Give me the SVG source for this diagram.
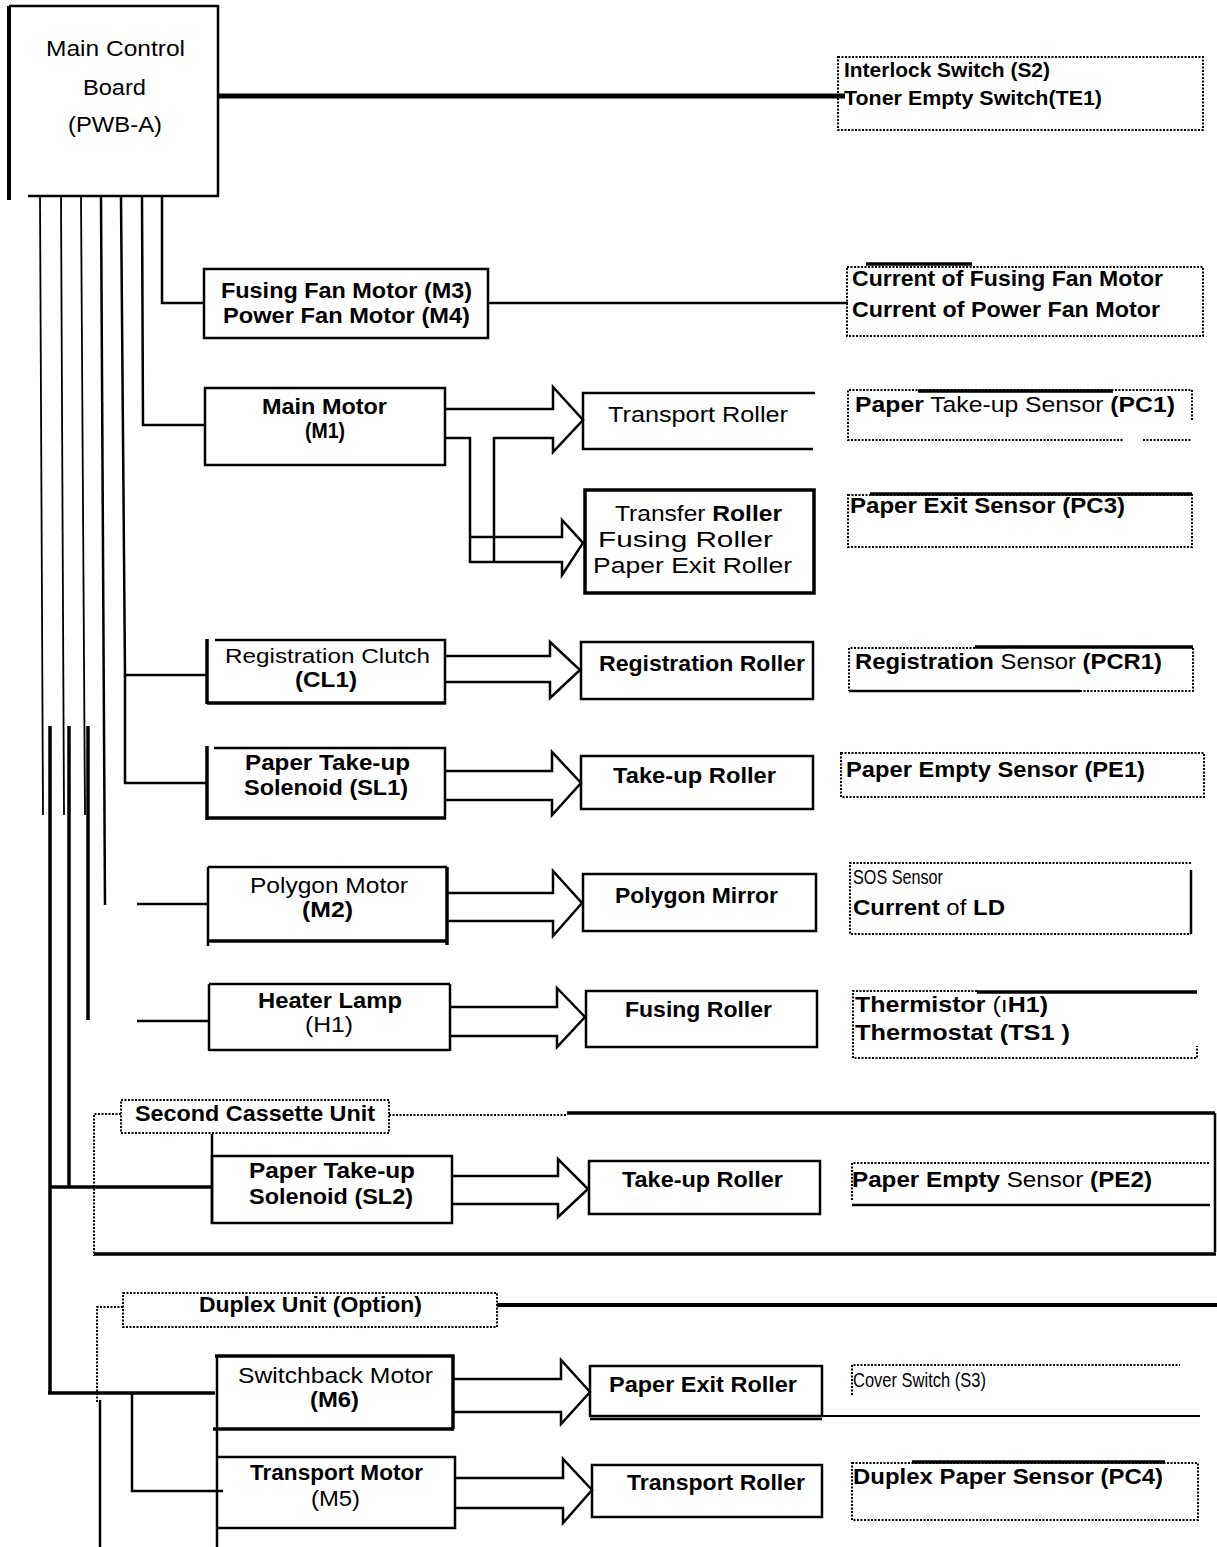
<svg xmlns="http://www.w3.org/2000/svg" width="1217" height="1547" viewBox="0 0 1217 1547">
<style>
.bx{fill:none;stroke:#000;stroke-width:2.5}
.tk{fill:none;stroke:#000;stroke-width:3.5}
.dt{fill:none;stroke:#000;stroke-width:2;stroke-dasharray:2 1.5}
.ln{fill:none;stroke:#000;stroke-width:2.5}
.th{fill:none;stroke:#000;stroke-width:1.8}
.ar{fill:none;stroke:#000;stroke-width:2.5;stroke-linejoin:miter}
text{font-family:"Liberation Sans",Arial,Helvetica,sans-serif;font-size:22px;fill:#000}
.b{font-weight:bold}
.s{font-size:21px}
</style>
<rect width="1217" height="1547" fill="#fff"/>

<g id="connectors">
  <line class="tk" x1="219" y1="96" x2="845" y2="96" style="stroke-width:5"/>
  <line class="th" x1="40" y1="197" x2="43" y2="815"/>
  <line class="tk" x1="50" y1="726" x2="50" y2="1394"/>
  <line class="th" x1="61" y1="197" x2="64" y2="815"/>
  <line class="tk" x1="69" y1="726" x2="69" y2="1187"/>
  <line class="th" x1="81" y1="197" x2="85" y2="815"/>
  <line class="tk" x1="88" y1="726" x2="88" y2="1020"/>
  <line class="ln" x1="101" y1="197" x2="105" y2="905"/>
  <polyline class="ln" points="121,197 125,675 207,675"/>
  <polyline class="ln" points="125,675 125,783 207,783"/>
  <polyline class="ln" points="142,197 143,425 205,425"/>
  <polyline class="ln" points="162,197 162,303 205,303"/>
  <line class="ln" x1="137" y1="904" x2="208" y2="904"/>
  <line class="ln" x1="137" y1="1021" x2="209" y2="1021"/>
  <line class="tk" x1="50" y1="1187" x2="212" y2="1187"/>
  <line class="tk" x1="48" y1="1393" x2="215" y2="1393"/>
  <polyline class="ln" points="132,1393 132,1491 223,1491"/>
  <line class="ln" x1="488" y1="303" x2="848" y2="303"/>
  <polyline class="ar" points="445,409 553,409 553,387 583,420 553,452 553,438 494,438 494,562"/>
  <polyline class="ar" points="445,438 470,438 470,562 562,562 562,575 583,543 562,520 562,537 470,537"/>
  <polyline class="ar" points="445,656 550,656 550,642 580,670 550,698 550,682 445,682"/>
  <polyline class="ar" points="445,771 552,771 552,752 581,783 552,815 552,800 445,800"/>
  <polyline class="ar" points="447,893 553,893 553,871 582,903 553,936 553,921 447,921"/>
  <polyline class="ar" points="450,1007 557,1007 557,988 585,1017 557,1047 557,1036 450,1036"/>
  <polyline class="ar" points="452,1176 558,1176 558,1159 588,1189 558,1217 558,1204 452,1204"/>
  <polyline class="ar" points="453,1379 561,1379 561,1360 590,1392 561,1424 561,1412 453,1412"/>
  <polyline class="ar" points="455,1478 563,1478 563,1459 592,1490 563,1523 563,1508 455,1508"/>
</g>

<g id="main-board">
  <line class="tk" x1="9" y1="6" x2="9" y2="200" style="stroke-width:4"/>
  <polyline class="bx" points="9,6 218,6 218,196 28,196"/>
  <text x="46" y="56" textLength="139" lengthAdjust="spacingAndGlyphs">Main  Control</text>
  <text x="83" y="95" textLength="63" lengthAdjust="spacingAndGlyphs">Board</text>
  <text x="68" y="132" textLength="94" lengthAdjust="spacingAndGlyphs">(PWB-A)</text>
</g>

<g id="interlock">
  <rect class="dt" x="838" y="57" width="365" height="73"/>
  <text class="b" x="844" y="77" textLength="206" lengthAdjust="spacingAndGlyphs" style="font-size:21px">Interlock Switch (S2)</text>
  <text class="b" x="844" y="105" textLength="258" lengthAdjust="spacingAndGlyphs" style="font-size:21px">Toner Empty Switch(TE1)</text>
</g>

<g id="fan-motors">
  <rect class="bx" x="204" y="269" width="284" height="69"/>
  <text class="b" x="221" y="298" textLength="251" lengthAdjust="spacingAndGlyphs">Fusing Fan Motor (M3)</text>
  <text class="b" x="223" y="323" textLength="247" lengthAdjust="spacingAndGlyphs">Power Fan Motor (M4)</text>
</g>

<g id="fan-current">
  <rect class="dt" x="847" y="267" width="356" height="69"/>
  <line class="tk" x1="866" y1="264" x2="972" y2="264"/>
  <text class="b" x="852" y="286" textLength="311" lengthAdjust="spacingAndGlyphs">Current of Fusing Fan Motor</text>
  <text class="b" x="852" y="317" textLength="308" lengthAdjust="spacingAndGlyphs">Current of Power Fan Motor</text>
</g>

<g id="main-motor">
  <rect class="bx" x="205" y="388" width="240" height="77"/>
  <text class="b" x="262" y="414" textLength="125" lengthAdjust="spacingAndGlyphs">Main Motor</text>
  <text class="b" x="305" y="438" textLength="40" lengthAdjust="spacingAndGlyphs">(M1)</text>
</g>

<g id="transport-roller">
  <polyline class="bx" points="815,393 583,393 583,449 813,449"/>
  <text x="608" y="422" textLength="180" lengthAdjust="spacingAndGlyphs">Transport  Roller</text>
</g>

<g id="pc1">
  <polyline class="dt" points="1192,420 1192,390 848,390 848,440 1123,440"/>
  <line class="dt" x1="1143" y1="440" x2="1192" y2="440"/>
  <line class="tk" x1="918" y1="391" x2="1113" y2="391"/>
  <text x="855" y="412" textLength="320" lengthAdjust="spacingAndGlyphs"><tspan class="b">Paper</tspan> Take-up Sensor <tspan class="b">(PC1)</tspan></text>
</g>

<g id="transfer-roller">
  <rect class="tk" x="585" y="490" width="229" height="103"/>
  <text x="615" y="521" textLength="167" lengthAdjust="spacingAndGlyphs">Transfer <tspan class="b">Roller</tspan></text>
  <text x="598" y="547" textLength="175" lengthAdjust="spacingAndGlyphs">Fusing  Roller</text>
  <text x="593" y="573" textLength="199" lengthAdjust="spacingAndGlyphs">Paper Exit Roller</text>
</g>

<g id="pc3">
  <rect class="dt" x="848" y="495" width="344" height="52"/>
  <line class="tk" x1="870" y1="494" x2="1192" y2="494"/>
  <text class="b" x="850" y="513" textLength="275" lengthAdjust="spacingAndGlyphs">Paper Exit Sensor (PC3)</text>
</g>

<g id="reg-clutch">
  <line class="tk" x1="207" y1="639" x2="207" y2="704"/>
  <polyline class="bx" points="215,640 445,640 445,704"/>
  <line class="tk" x1="207" y1="703" x2="446" y2="703"/>
  <text x="225" y="663" textLength="205" lengthAdjust="spacingAndGlyphs" style="font-size:20px">Registration   Clutch</text>
  <text class="b" x="295" y="687" textLength="62" lengthAdjust="spacingAndGlyphs">(CL1)</text>
</g>

<g id="reg-roller">
  <rect class="bx" x="581" y="642" width="232" height="57"/>
  <text class="b" x="599" y="671" textLength="206" lengthAdjust="spacingAndGlyphs">Registration Roller</text>
</g>

<g id="pcr1">
  <polyline class="dt" points="975,648 849,648 849,691"/>
  <polyline class="dt" points="1080,691 1193,691 1193,648"/>
  <line class="tk" x1="975" y1="647" x2="1193" y2="647"/>
  <line class="ln" x1="849" y1="691" x2="1080" y2="691"/>
  <text x="855" y="669" textLength="307" lengthAdjust="spacingAndGlyphs"><tspan class="b">Registration</tspan> Sensor <tspan class="b">(PCR1)</tspan></text>
</g>

<g id="sl1">
  <line class="tk" x1="207" y1="746" x2="207" y2="820"/>
  <polyline class="bx" points="214,748 445,748 445,819"/>
  <line class="tk" x1="207" y1="818" x2="446" y2="818"/>
  <text class="b" x="245" y="770" textLength="165" lengthAdjust="spacingAndGlyphs">Paper Take-up</text>
  <text class="b" x="244" y="795" textLength="164" lengthAdjust="spacingAndGlyphs">Solenoid (SL1)</text>
</g>

<g id="takeup-roller">
  <rect class="bx" x="581" y="756" width="232" height="53"/>
  <text class="b" x="613" y="783" textLength="163" lengthAdjust="spacingAndGlyphs">Take-up Roller</text>
</g>

<g id="pe1">
  <rect class="dt" x="841" y="753" width="363" height="44"/>
  <text class="b" x="846" y="777" textLength="299" lengthAdjust="spacingAndGlyphs">Paper Empty Sensor (PE1)</text>
</g>

<g id="polygon-motor">
  <line class="bx" x1="208" y1="867" x2="447" y2="867"/>
  <line class="bx" x1="208" y1="867" x2="208" y2="946"/>
  <line class="tk" x1="447" y1="867" x2="447" y2="945"/>
  <line class="tk" x1="208" y1="941" x2="448" y2="941"/>
  <text x="250" y="893" textLength="158" lengthAdjust="spacingAndGlyphs">Polygon Motor</text>
  <text class="b" x="302" y="917" textLength="51" lengthAdjust="spacingAndGlyphs">(M2)</text>
</g>

<g id="polygon-mirror">
  <rect class="bx" x="583" y="874" width="233" height="57"/>
  <text class="b" x="615" y="903" textLength="163" lengthAdjust="spacingAndGlyphs">Polygon Mirror</text>
</g>

<g id="sos">
  <polyline class="dt" points="1191,863 850,863 850,934 1191,934"/>
  <line class="ln" x1="1191" y1="870" x2="1191" y2="934"/>
  <text x="853" y="884" textLength="90" lengthAdjust="spacingAndGlyphs" class="s">SOS Sensor</text>
  <text x="853" y="915" textLength="152" lengthAdjust="spacingAndGlyphs"><tspan class="b">Current</tspan> of <tspan class="b">LD</tspan></text>
</g>

<g id="heater-lamp">
  <line class="bx" x1="209" y1="984" x2="209" y2="1051"/>
  <line class="bx" x1="209" y1="984" x2="450" y2="984"/>
  <line class="bx" x1="450" y1="984" x2="450" y2="1051"/>
  <line class="bx" x1="209" y1="1050" x2="450" y2="1050"/>
  <text class="b" x="258" y="1008" textLength="144" lengthAdjust="spacingAndGlyphs">Heater Lamp</text>
  <text x="305" y="1032" textLength="48" lengthAdjust="spacingAndGlyphs">(H1)</text>
</g>

<g id="fusing-roller">
  <rect class="bx" x="586" y="991" width="231" height="56"/>
  <text class="b" x="625" y="1017" textLength="147" lengthAdjust="spacingAndGlyphs">Fusing Roller</text>
</g>

<g id="thermistor">
  <polyline class="dt" points="977,991 853,991 853,1058 1197,1058 1197,1046"/>
  <line class="tk" x1="977" y1="992" x2="1197" y2="992"/>
  <text x="855" y="1012" textLength="193" lengthAdjust="spacingAndGlyphs"><tspan class="b">Thermistor</tspan> (ı<tspan class="b">H1)</tspan></text>
  <text class="b" x="855" y="1040" textLength="215" lengthAdjust="spacingAndGlyphs">Thermostat (TS1 )</text>
</g>

<g id="second-cassette">
  <polyline class="dt" points="121,1114 94,1114 94,1256"/>
  <line class="dt" x1="389" y1="1115" x2="567" y2="1115"/>
  <line class="tk" x1="567" y1="1113" x2="1215" y2="1113"/>
  <line class="ln" x1="1215" y1="1113" x2="1215" y2="1252"/>
  <line class="tk" x1="94" y1="1254" x2="1216" y2="1254"/>
  <rect class="dt" x="121" y="1100" width="268" height="33"/>
  <text class="b" x="135" y="1121" textLength="240" lengthAdjust="spacingAndGlyphs">Second Cassette Unit</text>
</g>

<g id="sl2">
  <line class="ln" x1="212" y1="1134" x2="212" y2="1224"/>
  <rect class="bx" x="212" y="1156" width="240" height="67"/>
  <text class="b" x="249" y="1178" textLength="166" lengthAdjust="spacingAndGlyphs">Paper Take-up</text>
  <text class="b" x="249" y="1204" textLength="164" lengthAdjust="spacingAndGlyphs">Solenoid (SL2)</text>
</g>

<g id="takeup-roller-2">
  <rect class="bx" x="589" y="1161" width="231" height="53"/>
  <text class="b" x="622" y="1187" textLength="161" lengthAdjust="spacingAndGlyphs">Take-up Roller</text>
</g>

<g id="pe2">
  <polyline class="dt" points="852,1200 852,1163 1210,1163"/>
  <line class="ln" x1="852" y1="1205" x2="1210" y2="1205"/>
  <text x="852" y="1187" textLength="300" lengthAdjust="spacingAndGlyphs"><tspan class="b">Paper Empty</tspan> Sensor <tspan class="b">(PE2)</tspan></text>
</g>

<g id="duplex-unit">
  <polyline class="dt" points="123,1307 97,1307 97,1402"/>
  <line class="ln" x1="100" y1="1400" x2="100" y2="1547"/>
  <rect class="dt" x="123" y="1293" width="374" height="34"/>
  <line class="tk" x1="497" y1="1305" x2="1217" y2="1305" style="stroke-width:4"/>
  <text class="b" x="199" y="1312" textLength="223" lengthAdjust="spacingAndGlyphs">Duplex Unit (Option)</text>
</g>

<g id="switchback-motor">
  <line class="ln" x1="217" y1="1356" x2="217" y2="1547"/>
  <polyline class="tk" points="215,1356 453,1356 453,1429"/>
  <line class="tk" x1="213" y1="1429" x2="454" y2="1429"/>
  <text x="238" y="1383" textLength="195" lengthAdjust="spacingAndGlyphs">Switchback  Motor</text>
  <text class="b" x="310" y="1407" textLength="49" lengthAdjust="spacingAndGlyphs">(M6)</text>
</g>

<g id="paper-exit-roller">
  <rect class="bx" x="590" y="1366" width="232" height="50"/>
  <line class="ln" x1="590" y1="1419" x2="822" y2="1419"/>
  <line class="th" x1="822" y1="1416" x2="1200" y2="1416"/>
  <text class="b" x="609" y="1392" textLength="188" lengthAdjust="spacingAndGlyphs">Paper Exit Roller</text>
</g>

<g id="cover-switch">
  <polyline class="dt" points="852,1395 852,1365 1180,1365"/>
  <text x="853" y="1387" textLength="133" lengthAdjust="spacingAndGlyphs" style="font-size:20px">Cover Switch  (S3)</text>
</g>

<g id="transport-motor">
  <polyline class="ln" points="217,1457 455,1457 455,1528 217,1528"/>
  <text class="b" x="250" y="1480" textLength="173" lengthAdjust="spacingAndGlyphs">Transport Motor</text>
  <text x="311" y="1506" textLength="49" lengthAdjust="spacingAndGlyphs">(M5)</text>
</g>

<g id="transport-roller-2">
  <rect class="bx" x="592" y="1465" width="230" height="52"/>
  <text class="b" x="627" y="1490" textLength="178" lengthAdjust="spacingAndGlyphs">Transport Roller</text>
</g>

<g id="pc4">
  <rect class="dt" x="852" y="1463" width="346" height="57"/>
  <line class="tk" x1="912" y1="1462" x2="1165" y2="1462"/>
  <text class="b" x="853" y="1484" textLength="310" lengthAdjust="spacingAndGlyphs">Duplex Paper Sensor (PC4)</text>
</g>
</svg>
